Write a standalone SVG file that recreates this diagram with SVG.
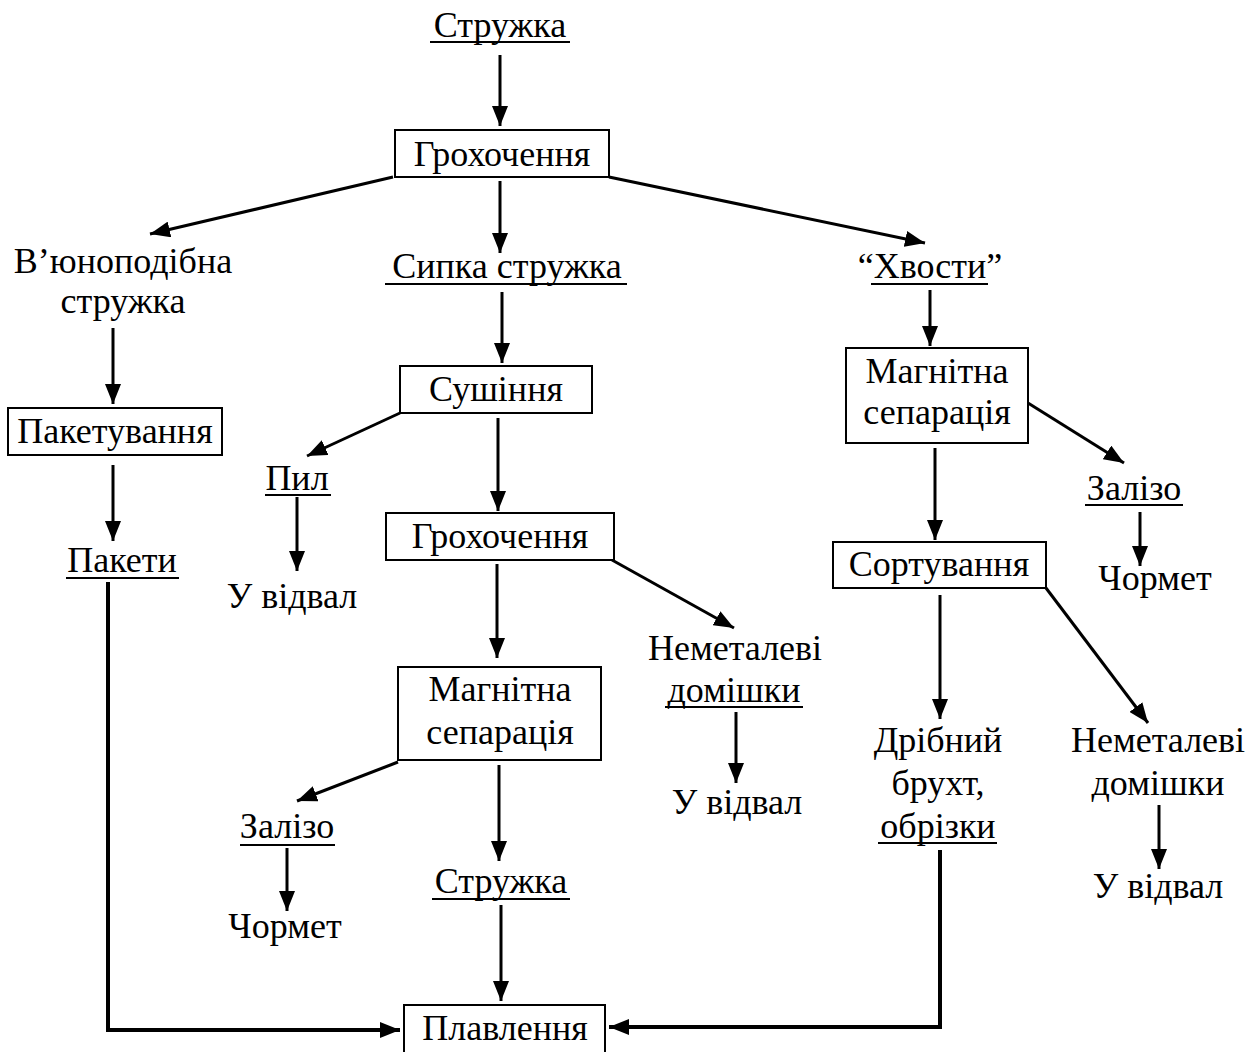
<svg xmlns="http://www.w3.org/2000/svg" width="1255" height="1052" viewBox="0 0 1255 1052">
<defs>
<marker id="ah" markerUnits="userSpaceOnUse" markerWidth="22" markerHeight="16" refX="20" refY="8" orient="auto">
<path d="M0,0 L20,8 L0,16 Z" fill="#000"/>
</marker>
<style>
text{font-family:"Liberation Serif","Times New Roman",serif;font-size:36px;fill:#000;text-anchor:middle}
.box{fill:#fff;stroke:#000;stroke-width:2}
.ul{stroke:#000;stroke-width:2}
.c{stroke:#000;stroke-width:3;fill:none;marker-end:url(#ah)}
.c4{stroke:#000;stroke-width:4;fill:none;marker-end:url(#ah)}
</style>
</defs>
<rect width="1255" height="1052" fill="#fff"/>
<g id="connectors">
<line class="c" x1="500" y1="55" x2="500" y2="126"/>
<line class="c" x1="393" y1="177" x2="150" y2="234"/>
<line class="c" x1="500" y1="181" x2="500" y2="253"/>
<line class="c" x1="609" y1="177" x2="925" y2="243"/>
<line class="c" x1="113" y1="328" x2="113" y2="404"/>
<line class="c" x1="113" y1="465" x2="113" y2="541"/>
<polyline class="c4" points="108,582 108,1030 400,1030"/>
<line class="c" x1="502" y1="292" x2="502" y2="363"/>
<line class="c" x1="400" y1="413" x2="307" y2="456"/>
<line class="c" x1="297" y1="497" x2="297" y2="571"/>
<line class="c" x1="498" y1="418" x2="498" y2="511"/>
<line class="c" x1="497" y1="564" x2="497" y2="658"/>
<line class="c" x1="612" y1="560" x2="734" y2="628"/>
<line class="c" x1="736" y1="712" x2="736" y2="783"/>
<line class="c" x1="398" y1="762" x2="297" y2="801"/>
<line class="c" x1="287" y1="848" x2="287" y2="911"/>
<line class="c" x1="499" y1="765" x2="499" y2="861"/>
<line class="c" x1="501" y1="905" x2="501" y2="1001"/>
<polyline class="c4" points="940,850 940,1027 609,1027"/>
<line class="c" x1="930" y1="290" x2="930" y2="346"/>
<line class="c" x1="1028" y1="403" x2="1124" y2="463"/>
<line class="c" x1="1140" y1="512" x2="1140" y2="566"/>
<line class="c" x1="935" y1="448" x2="935" y2="540"/>
<line class="c" x1="940" y1="595" x2="940" y2="719"/>
<line class="c" x1="1046" y1="588" x2="1148" y2="723"/>
<line class="c" x1="1159" y1="805" x2="1159" y2="869"/>
</g>
<g id="n-struzhka-top"><text x="500" y="37">Стружка</text><line class="ul" x1="430" y1="42" x2="570" y2="42"/></g>
<g id="n-hrokh1"><rect class="box" x="395" y="130" width="214" height="47"/><text x="502" y="166">Грохочення</text></g>
<g id="n-vyun"><text x="123" y="273">В’юноподібна</text><text x="123" y="313">стружка</text></g>
<g id="n-sypka"><text x="507" y="278">Сипка стружка</text><line class="ul" x1="385" y1="284" x2="627" y2="284"/></g>
<g id="n-khvosty"><text x="930" y="278">“Хвости”</text><line class="ul" x1="871" y1="284" x2="988" y2="284"/></g>
<g id="n-paket"><rect class="box" x="8" y="408" width="214" height="47"/><text x="115" y="443">Пакетування</text></g>
<g id="n-pakety"><text x="122" y="572">Пакети</text><line class="ul" x1="66" y1="578" x2="179" y2="578"/></g>
<g id="n-sush"><rect class="box" x="400" y="366" width="192" height="47"/><text x="496" y="401">Сушіння</text></g>
<g id="n-pyl"><text x="297" y="490">Пил</text><line class="ul" x1="265" y1="495" x2="331" y2="495"/></g>
<g id="n-vidval1"><text x="292" y="608">У відвал</text></g>
<g id="n-hrokh2"><rect class="box" x="386" y="513" width="228" height="47"/><text x="500" y="548">Грохочення</text></g>
<g id="n-nemet1"><text x="735" y="660">Неметалеві</text><text x="734" y="702">домішки</text><line class="ul" x1="665" y1="707" x2="803" y2="707"/></g>
<g id="n-vidval2"><text x="737" y="814">У відвал</text></g>
<g id="n-mag1"><rect class="box" x="398" y="667" width="203" height="93"/><text x="500" y="701">Магнітна</text><text x="500" y="744">сепарація</text></g>
<g id="n-zalizo1"><text x="287" y="838">Залізо</text><line class="ul" x1="240" y1="845" x2="335" y2="845"/></g>
<g id="n-chormet1"><text x="285" y="938">Чормет</text></g>
<g id="n-struzhka2"><text x="501" y="893">Стружка</text><line class="ul" x1="432" y1="899" x2="570" y2="899"/></g>
<g id="n-plav"><rect class="box" x="404" y="1005" width="201" height="52"/><text x="505" y="1040">Плавлення</text></g>
<g id="n-mag2"><rect class="box" x="846" y="348" width="182" height="95"/><text x="937" y="383">Магнітна</text><text x="937" y="424">сепарація</text></g>
<g id="n-zalizo2"><text x="1134" y="500">Залізо</text><line class="ul" x1="1085" y1="505" x2="1183" y2="505"/></g>
<g id="n-chormet2"><text x="1155" y="590">Чормет</text></g>
<g id="n-sort"><rect class="box" x="833" y="542" width="213" height="46"/><text x="939" y="576">Сортування</text></g>
<g id="n-dribn"><text x="938" y="752">Дрібний</text><text x="938" y="795">брухт,</text><text x="938" y="838">обрізки</text><line class="ul" x1="878" y1="843" x2="997" y2="843"/></g>
<g id="n-nemet2"><text x="1158" y="752">Неметалеві</text><text x="1158" y="795">домішки</text></g>
<g id="n-vidval3"><text x="1158" y="898">У відвал</text></g>
</svg>
